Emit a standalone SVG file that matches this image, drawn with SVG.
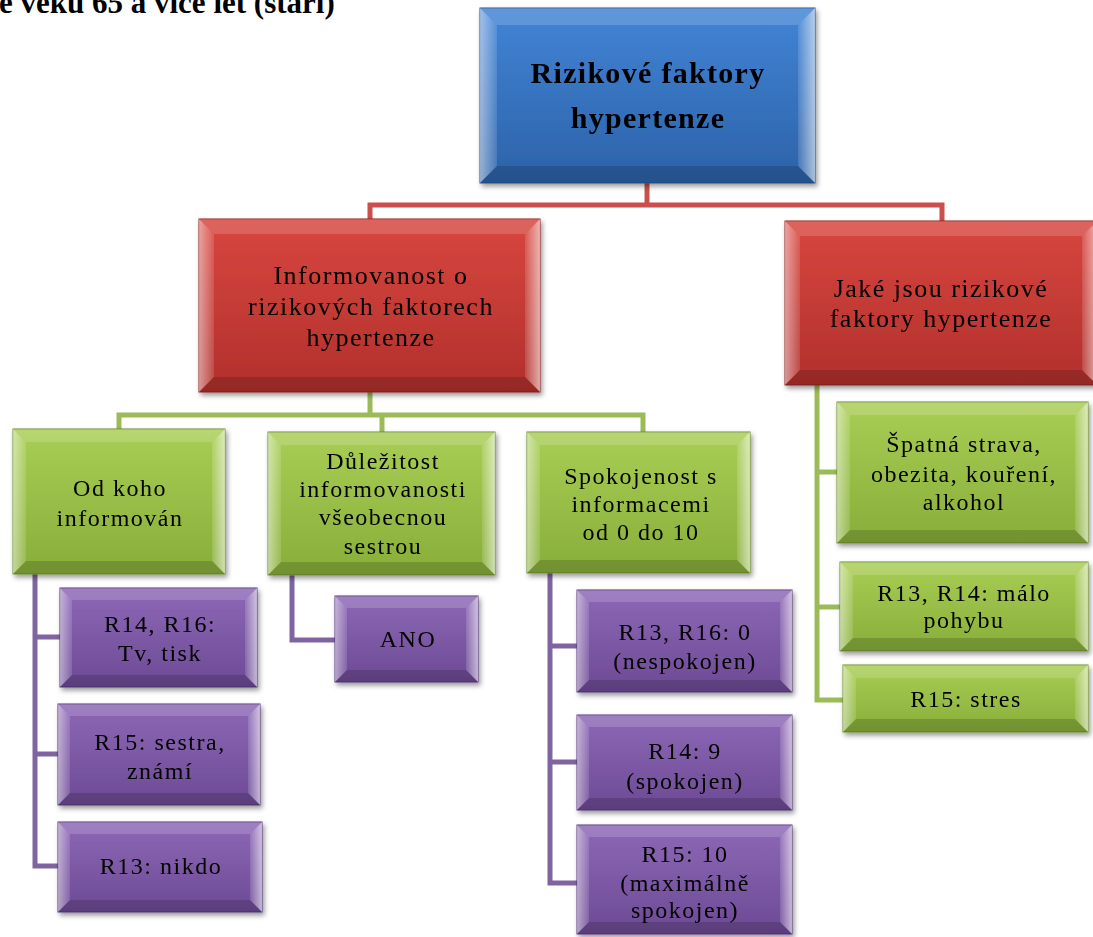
<svg xmlns="http://www.w3.org/2000/svg" width="1093" height="937" viewBox="0 0 1093 937">
  <defs>
    <!-- face fills -->
    <linearGradient id="gBlue" x1="0" y1="0" x2="0" y2="1">
      <stop offset="0" stop-color="#4284D6"/>
      <stop offset="1" stop-color="#2C62A8"/>
    </linearGradient>
    <linearGradient id="gRed" x1="0" y1="0" x2="0" y2="1">
      <stop offset="0" stop-color="#D8463F"/>
      <stop offset="1" stop-color="#B1302C"/>
    </linearGradient>
    <linearGradient id="gGreen" x1="0" y1="0" x2="0" y2="1">
      <stop offset="0" stop-color="#A9CE55"/>
      <stop offset="1" stop-color="#88AE3A"/>
    </linearGradient>
    <linearGradient id="gPurple" x1="0" y1="0" x2="0" y2="1">
      <stop offset="0" stop-color="#8D68B6"/>
      <stop offset="1" stop-color="#6D4A95"/>
    </linearGradient>
    <!-- bevel overlays -->
    <linearGradient id="bvL" x1="0" y1="0" x2="1" y2="0">
      <stop offset="0" stop-color="#fff" stop-opacity="0.5"/>
      <stop offset="1" stop-color="#fff" stop-opacity="0.12"/>
    </linearGradient>
    <linearGradient id="bvR" x1="0" y1="0" x2="1" y2="0">
      <stop offset="0" stop-color="#fff" stop-opacity="0.12"/>
      <stop offset="1" stop-color="#fff" stop-opacity="0.6"/>
    </linearGradient>
    <filter id="shadow" x="-10%" y="-10%" width="125%" height="130%">
      <feDropShadow dx="2" dy="3" stdDeviation="2.5" flood-color="#000" flood-opacity="0.4"/>
    </filter>
  </defs>
  <style>
    .node { filter: url(#shadow); }
    .face { stroke-width: 1; }
    .blue .face { fill: url(#gBlue); stroke: #25548F; }
    .red .face { fill: url(#gRed); stroke: #8E2623; }
    .green .face { fill: url(#gGreen); stroke: #6E8F2E; }
    .purple .face { fill: url(#gPurple); stroke: #553878; }
    .bt { fill: #fff; fill-opacity: 0.16; }
    .bl { fill: url(#bvL); }
    .br { fill: url(#bvR); }
    .bb { fill: #000; fill-opacity: 0.16; }
    text { font-family: "Liberation Serif", "Times New Roman", serif; fill: #000; text-anchor: middle; }
    .tb { font-size: 30px; font-weight: bold; letter-spacing: 1.3px; }
    .tr { font-size: 26px; letter-spacing: 1.5px; }
    .tg { font-size: 24px; letter-spacing: 1.5px; }
    .heading { font-size: 31px; font-weight: bold; text-anchor: start; }
    .conn path { fill: none; stroke-width: 5; stroke-linejoin: miter; stroke-linecap: butt; }
    .c-red { stroke: #C9504D; }
    .c-green { stroke: #9BBB59; }
    .c-purple { stroke: #8064A2; }
  </style>

  <rect width="1093" height="937" fill="#fff"/>

  <text class="heading" x="-1" y="13">e věku 65 a více let (staří)</text>

  <!-- connectors -->
  <g id="connectors" class="conn">
    <path class="c-red" d="M647,183 V205 M370,219 V205 H942 V221"/>
    <path class="c-green" d="M370,392 V415 M119,429 V415 H643 V432 M382,415 V432"/>
    <path class="c-green" d="M817,385 V700 H843 M817,472 H837 M817,607 H840"/>
    <path class="c-purple" d="M35,574 V866 H58 M35,637 H60 M35,754 H58"/>
    <path class="c-purple" d="M292,575 V640 H335"/>
    <path class="c-purple" d="M550,573 V883 H577 M550,646 H577 M550,762 H577"/>
  </g>

  <!-- root -->
  <g id="root" class="node blue">
    <rect class="face" x="480" y="8" width="335" height="175"/>
    <polygon class="bt" points="480,8 815,8 798,25 497,25"/>
    <polygon class="bl" points="480,8 497,25 497,166 480,183"/>
    <polygon class="br" points="815,8 815,183 798,166 798,25"/>
    <polygon class="bb" points="480,183 815,183 798,166 497,166"/>
    <text class="tb" x="648" y="83">Rizikové faktory</text>
    <text class="tb" x="648" y="128">hypertenze</text>
  </g>

  <!-- level 1 -->
  <g id="informovanost" class="node red">
    <rect class="face" x="199" y="219" width="341" height="173"/>
    <polygon class="bt" points="199,219 540,219 525,234 214,234"/>
    <polygon class="bl" points="199,219 214,234 214,377 199,392"/>
    <polygon class="br" points="540,219 540,392 525,377 525,234"/>
    <polygon class="bb" points="199,392 540,392 525,377 214,377"/>
    <text class="tr" x="371" y="284">Informovanost o</text>
    <text class="tr" x="371" y="315">rizikových faktorech</text>
    <text class="tr" x="371" y="346">hypertenze</text>
  </g>

  <g id="jake-faktory" class="node red">
    <rect class="face" x="785" y="221" width="312" height="164"/>
    <polygon class="bt" points="785,221 1097,221 1082,236 800,236"/>
    <polygon class="bl" points="785,221 800,236 800,370 785,385"/>
    <polygon class="br" points="1097,221 1097,385 1082,370 1082,236"/>
    <polygon class="bb" points="785,385 1097,385 1082,370 800,370"/>
    <text class="tr" x="941" y="297">Jaké jsou rizikové</text>
    <text class="tr" x="941" y="327">faktory hypertenze</text>
  </g>

  <!-- level 2, left branch -->
  <g id="od-koho" class="node green">
    <rect class="face" x="13" y="429" width="212" height="145"/>
    <polygon class="bt" points="13,429 225,429 212,442 26,442"/>
    <polygon class="bl" points="13,429 26,442 26,561 13,574"/>
    <polygon class="br" points="225,429 225,574 212,561 212,442"/>
    <polygon class="bb" points="13,574 225,574 212,561 26,561"/>
    <text class="tg" x="120" y="496">Od koho</text>
    <text class="tg" x="120" y="526">informován</text>
  </g>

  <g id="dulezitost" class="node green">
    <rect class="face" x="268" y="432" width="227" height="143"/>
    <polygon class="bt" points="268,432 495,432 482,445 281,445"/>
    <polygon class="bl" points="268,432 281,445 281,562 268,575"/>
    <polygon class="br" points="495,432 495,575 482,562 482,445"/>
    <polygon class="bb" points="268,575 495,575 482,562 281,562"/>
    <text class="tg" x="383" y="469">Důležitost</text>
    <text class="tg" x="383" y="497">informovanosti</text>
    <text class="tg" x="383" y="525">všeobecnou</text>
    <text class="tg" x="383" y="554">sestrou</text>
  </g>

  <g id="spokojenost" class="node green">
    <rect class="face" x="527" y="432" width="223" height="141"/>
    <polygon class="bt" points="527,432 750,432 737,445 540,445"/>
    <polygon class="bl" points="527,432 540,445 540,560 527,573"/>
    <polygon class="br" points="750,432 750,573 737,560 737,445"/>
    <polygon class="bb" points="527,573 750,573 737,560 540,560"/>
    <text class="tg" x="641" y="484">Spokojenost s</text>
    <text class="tg" x="641" y="512">informacemi</text>
    <text class="tg" x="641" y="540">od 0 do 10</text>
  </g>

  <!-- level 2, right branch -->
  <g id="strava" class="node green">
    <rect class="face" x="837" y="402" width="251" height="141"/>
    <polygon class="bt" points="837,402 1088,402 1075,415 850,415"/>
    <polygon class="bl" points="837,402 850,415 850,530 837,543"/>
    <polygon class="br" points="1088,402 1088,543 1075,530 1075,415"/>
    <polygon class="bb" points="837,543 1088,543 1075,530 850,530"/>
    <text class="tg" x="964" y="452">Špatná strava,</text>
    <text class="tg" x="964" y="482">obezita, kouření,</text>
    <text class="tg" x="964" y="510">alkohol</text>
  </g>

  <g id="pohyb" class="node green">
    <rect class="face" x="840" y="562" width="248" height="89"/>
    <polygon class="bt" points="840,562 1088,562 1075,575 853,575"/>
    <polygon class="bl" points="840,562 853,575 853,638 840,651"/>
    <polygon class="br" points="1088,562 1088,651 1075,638 1075,575"/>
    <polygon class="bb" points="840,651 1088,651 1075,638 853,638"/>
    <text class="tg" x="964" y="601">R13, R14: málo</text>
    <text class="tg" x="964" y="628">pohybu</text>
  </g>

  <g id="stres" class="node green">
    <rect class="face" x="843" y="665" width="245" height="67"/>
    <polygon class="bt" points="843,665 1088,665 1075,678 856,678"/>
    <polygon class="bl" points="843,665 856,678 856,719 843,732"/>
    <polygon class="br" points="1088,665 1088,732 1075,719 1075,678"/>
    <polygon class="bb" points="843,732 1088,732 1075,719 856,719"/>
    <text class="tg" x="966" y="707">R15: stres</text>
  </g>

  <!-- level 3 under "Od koho informován" -->
  <g id="tv-tisk" class="node purple">
    <rect class="face" x="60" y="588" width="197" height="99"/>
    <polygon class="bt" points="60,588 257,588 245,600 72,600"/>
    <polygon class="bl" points="60,588 72,600 72,675 60,687"/>
    <polygon class="br" points="257,588 257,687 245,675 245,600"/>
    <polygon class="bb" points="60,687 257,687 245,675 72,675"/>
    <text class="tg" x="160" y="632">R14, R16:</text>
    <text class="tg" x="160" y="661">Tv, tisk</text>
  </g>

  <g id="sestra" class="node purple">
    <rect class="face" x="58" y="704" width="202" height="101"/>
    <polygon class="bt" points="58,704 260,704 248,716 70,716"/>
    <polygon class="bl" points="58,704 70,716 70,793 58,805"/>
    <polygon class="br" points="260,704 260,805 248,793 248,716"/>
    <polygon class="bb" points="58,805 260,805 248,793 70,793"/>
    <text class="tg" x="160" y="750">R15: sestra,</text>
    <text class="tg" x="160" y="779">známí</text>
  </g>

  <g id="nikdo" class="node purple">
    <rect class="face" x="58" y="822" width="204" height="90"/>
    <polygon class="bt" points="58,822 262,822 250,834 70,834"/>
    <polygon class="bl" points="58,822 70,834 70,900 58,912"/>
    <polygon class="br" points="262,822 262,912 250,900 250,834"/>
    <polygon class="bb" points="58,912 262,912 250,900 70,900"/>
    <text class="tg" x="161" y="874">R13: nikdo</text>
  </g>

  <!-- level 3 under "Důležitost" -->
  <g id="ano" class="node purple">
    <rect class="face" x="335" y="596" width="143" height="86"/>
    <polygon class="bt" points="335,596 478,596 466,608 347,608"/>
    <polygon class="bl" points="335,596 347,608 347,670 335,682"/>
    <polygon class="br" points="478,596 478,682 466,670 466,608"/>
    <polygon class="bb" points="335,682 478,682 466,670 347,670"/>
    <text class="tg" x="408" y="647">ANO</text>
  </g>

  <!-- level 3 under "Spokojenost" -->
  <g id="nespokojen" class="node purple">
    <rect class="face" x="577" y="590" width="215" height="102"/>
    <polygon class="bt" points="577,590 792,590 780,602 589,602"/>
    <polygon class="bl" points="577,590 589,602 589,680 577,692"/>
    <polygon class="br" points="792,590 792,692 780,680 780,602"/>
    <polygon class="bb" points="577,692 792,692 780,680 589,680"/>
    <text class="tg" x="685" y="640">R13, R16: 0</text>
    <text class="tg" x="685" y="669">(nespokojen)</text>
  </g>

  <g id="spokojen" class="node purple">
    <rect class="face" x="577" y="715" width="215" height="95"/>
    <polygon class="bt" points="577,715 792,715 780,727 589,727"/>
    <polygon class="bl" points="577,715 589,727 589,798 577,810"/>
    <polygon class="br" points="792,715 792,810 780,798 780,727"/>
    <polygon class="bb" points="577,810 792,810 780,798 589,798"/>
    <text class="tg" x="685" y="759">R14: 9</text>
    <text class="tg" x="685" y="789">(spokojen)</text>
  </g>

  <g id="maximalne" class="node purple">
    <rect class="face" x="577" y="825" width="215" height="109"/>
    <polygon class="bt" points="577,825 792,825 780,837 589,837"/>
    <polygon class="bl" points="577,825 589,837 589,922 577,934"/>
    <polygon class="br" points="792,825 792,934 780,922 780,837"/>
    <polygon class="bb" points="577,934 792,934 780,922 589,922"/>
    <text class="tg" x="685" y="862">R15: 10</text>
    <text class="tg" x="685" y="891">(maximálně</text>
    <text class="tg" x="685" y="918">spokojen)</text>
  </g>
</svg>
